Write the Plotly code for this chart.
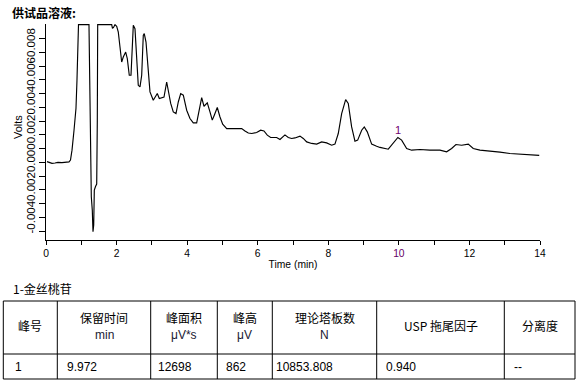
import plotly.graph_objects as go

# ---------------- data ----------------
time_min = [0.028, 0.113, 0.170, 0.255, 0.340, 0.453, 0.567, 0.652, 0.694, 0.737,
            0.794, 0.850, 0.878, 0.907, 0.921, 1.218, 1.233, 1.247, 1.267, 1.284,
            1.312, 1.332, 1.352, 1.369, 1.403, 1.437, 1.454, 1.465, 1.862, 1.884,
            1.913, 1.955, 2.003, 2.049, 2.097, 2.145, 2.190, 2.258, 2.304, 2.360,
            2.409, 2.445, 2.474, 2.522, 2.570, 2.615, 2.664, 2.712, 2.757, 2.785,
            2.834, 2.882, 2.947, 3.040, 3.117, 3.154, 3.211, 3.279, 3.344, 3.420,
            3.466, 3.534, 3.607, 3.684, 3.749, 3.817, 3.891, 3.987, 4.080, 4.174,
            4.270, 4.316, 4.412, 4.477, 4.571, 4.647, 4.712, 4.769, 4.854, 4.931,
            5.007, 5.121, 5.262, 5.449, 5.546, 5.639, 5.733, 5.829, 5.970, 6.084,
            6.177, 6.271, 6.367, 6.537, 6.631, 6.772, 6.866, 6.962, 7.056, 7.198,
            7.291, 7.388, 7.529, 7.671, 7.812, 7.954, 8.096, 8.189, 8.283, 8.379,
            8.492, 8.566, 8.662, 8.756, 8.833, 8.946, 9.020, 9.105, 9.229, 9.371,
            9.465, 9.700, 9.841, 9.972, 10.079, 10.221, 10.363, 10.598, 10.881, 11.165,
            11.354, 11.496, 11.618, 11.780, 11.967, 12.108, 12.298, 12.581, 12.865, 13.148,
            13.432, 13.715, 13.978]
volts = [0.00006, -0.00001, -0.00007, -0.00004, 0.00000, -0.00001, 0.00000, 0.00004, 0.00017, 0.00089,
         0.00234, 0.00393, 0.00596, 0.00886, 0.01000, 0.01000, 0.00741, 0.00379, 0.00017, -0.00249,
         -0.00346, -0.00503, -0.00454, -0.00201, -0.00175, -0.00157, 0.00307, 0.01000, 0.01000, 0.00973,
         0.00980, 0.01000, 0.00988, 0.00946, 0.00838, 0.00729, 0.00765, 0.00801, 0.00754, 0.00633,
         0.00633, 0.00922, 0.00995, 0.00971, 0.00705, 0.00560, 0.00548, 0.00633, 0.00922, 0.00935,
         0.00874, 0.00705, 0.00512, 0.00451, 0.00488, 0.00500, 0.00464, 0.00468, 0.00475, 0.00584,
         0.00524, 0.00428, 0.00367, 0.00355, 0.00439, 0.00500, 0.00488, 0.00379, 0.00319, 0.00287,
         0.00287, 0.00355, 0.00471, 0.00408, 0.00432, 0.00367, 0.00307, 0.00343, 0.00399, 0.00330,
         0.00278, 0.00246, 0.00246, 0.00251, 0.00246, 0.00229, 0.00214, 0.00210, 0.00217, 0.00234,
         0.00229, 0.00198, 0.00181, 0.00181, 0.00167, 0.00200, 0.00181, 0.00174, 0.00178, 0.00191,
         0.00174, 0.00149, 0.00138, 0.00133, 0.00149, 0.00142, 0.00125, 0.00133, 0.00210, 0.00355,
         0.00456, 0.00428, 0.00258, 0.00154, 0.00162, 0.00234, 0.00258, 0.00222, 0.00133, 0.00118,
         0.00109, 0.00096, 0.00138, 0.00181, 0.00162, 0.00101, 0.00089, 0.00094, 0.00089, 0.00089,
         0.00077, 0.00101, 0.00130, 0.00125, 0.00133, 0.00101, 0.00089, 0.00084, 0.00075, 0.00065,
         0.00060, 0.00053, 0.00051]

x_tick_values = [0, 2, 4, 6, 8, 10, 12, 14]
y_tick_values = [-0.005, -0.004, -0.003, -0.002, -0.001, 0.0, 0.001, 0.002,
                 0.003, 0.004, 0.005, 0.006, 0.007, 0.008, 0.009]
y_tick_label_text = "-0.0040.0020.0000.0020.0040.0060.008"

peak_labels = ["1"]
peak_times = [9.972]
peak_volts = [0.00181]

chart_title = "供试品溶液:"
compound_caption = "1-金丝桃苷"
header_names = ["峰号", "保留时间", "峰面积", "峰高", "理论塔板数", "USP 拖尾因子", "分离度"]
header_units = ["", "min", "μV*s", "μV", "N", "", ""]
row_values = ["1", "9.972", "12698", "862", "10853.808", "0.940", "--"]

# ---------------- layout geometry ----------------
W, H = 586, 388
L, R, T, B = 46, 46, 24, 148
PW, PH = W - L - R, H - T - B

def xp(px):
    return (px - L) / PW

def yp(py):
    return (H - B - py) / PH

FONT = "Liberation Sans, Arial, Noto Sans CJK SC, sans-serif"
CJK = "Noto Sans CJK SC, Liberation Sans, sans-serif"

fig = go.Figure()
fig.add_trace(go.Scatter(x=time_min, y=volts, mode="lines",
                         line=dict(color="black", width=1.15), hoverinfo="skip",
                         showlegend=False))

ticktext = [f"<span style='color:#660066'>{v}</span>" if v == 10 else str(v)
            for v in x_tick_values]

fig.update_layout(
    width=W, height=H, margin=dict(l=L, r=R, t=T, b=B),
    paper_bgcolor="white", plot_bgcolor="white",
    font=dict(family=FONT, color="black", size=10.3),
    xaxis=dict(range=[0, 14], showline=True, linecolor="black", linewidth=1,
               ticks="outside", ticklen=4, tickcolor="black",
               tickvals=x_tick_values, ticktext=ticktext,
               minor=dict(dtick=1, ticks="outside", ticklen=4, tickcolor="black"),
               showgrid=False, zeroline=False, automargin=False,
               tickfont=dict(size=10.3, family=FONT),
               title=dict(text="Time (min)", font=dict(size=10.3), standoff=2)),
    yaxis=dict(range=[-0.00563, 0.01005], showline=True, linecolor="black", linewidth=1,
               ticks="outside", ticklen=6, tickcolor="black",
               tickvals=y_tick_values, showticklabels=False, automargin=False,
               showgrid=False, zeroline=False),
)

ann = []
# y tick label string (rotated)
ann.append(dict(x=xp(30), y=yp(131.5), xref="paper", yref="paper", text=y_tick_label_text,
                textangle=-90, showarrow=False, xanchor="center", yanchor="middle",
                font=dict(size=11.5, family=FONT, color="black")))
ann.append(dict(x=xp(18), y=yp(127), xref="paper", yref="paper", text="Volts",
                textangle=-90, showarrow=False, xanchor="center", yanchor="middle",
                font=dict(size=11, family=FONT, color="black")))
# title
ann.append(dict(x=xp(10), y=yp(12.5), xref="paper", yref="paper", text=f"<b>{chart_title}</b>",
                showarrow=False, xanchor="left", yanchor="middle",
                font=dict(size=12, family=CJK, color="black")))
# peak labels
for lab, pt, pv in zip(peak_labels, peak_times, peak_volts):
    ann.append(dict(x=pt, y=pv, xref="x", yref="y", text=lab, showarrow=False,
                    xanchor="center", yanchor="middle", yshift=8,
                    font=dict(size=11, family=FONT, color="#700070")))
# caption
ann.append(dict(x=xp(11), y=yp(288.5), xref="paper", yref="paper", text=compound_caption,
                showarrow=False, xanchor="left", yanchor="middle",
                font=dict(size=12, family=CJK, color="black")))

# table geometry
col_edges = [3.3, 57.3, 150.7, 217.3, 272.3, 376.7, 504.3, 575]
row_edges = [301, 354, 379]
data_left = [13, 65, 156, 224, 274, 384, 512]

shapes = []
for xe in col_edges:
    shapes.append(dict(type="line", xref="paper", yref="paper",
                       x0=xp(xe), x1=xp(xe), y0=yp(row_edges[0]), y1=yp(row_edges[-1]),
                       line=dict(color="black", width=1)))
for ye in row_edges:
    shapes.append(dict(type="line", xref="paper", yref="paper",
                       x0=xp(col_edges[0]), x1=xp(col_edges[-1]), y0=yp(ye), y1=yp(ye),
                       line=dict(color="black", width=1)))

for i, (name, unit, val) in enumerate(zip(header_names, header_units, row_values)):
    cx = (col_edges[i] + col_edges[i + 1]) / 2
    if unit:
        ann.append(dict(x=xp(cx), y=yp(317.5), xref="paper", yref="paper", text=name,
                        showarrow=False, xanchor="center", yanchor="middle",
                        font=dict(size=12, family=CJK, color="black")))
        ann.append(dict(x=xp(cx), y=yp(334.5), xref="paper", yref="paper", text=unit,
                        showarrow=False, xanchor="center", yanchor="middle",
                        font=dict(size=12, family=FONT, color="#1a1a33")))
    else:
        ann.append(dict(x=xp(cx), y=yp(325), xref="paper", yref="paper", text=name,
                        showarrow=False, xanchor="center", yanchor="middle",
                        font=dict(size=12, family=CJK, color="black")))
    ann.append(dict(x=xp(data_left[i]), y=yp(366.5), xref="paper", yref="paper", text=val,
                    showarrow=False, xanchor="left", yanchor="middle",
                    font=dict(size=12, family=FONT, color="black")))

fig.update_layout(annotations=ann, shapes=shapes)
fig.write_html("out.html", config={"displayModeBar": False},
               post_script="document.body.style.margin='0px';document.body.style.padding='0px';")
